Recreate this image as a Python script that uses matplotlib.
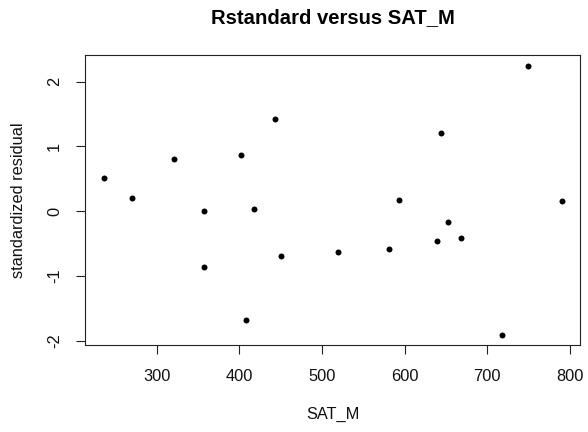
import matplotlib
matplotlib.use("Agg")
import matplotlib.pyplot as plt

sat_m = [236, 270, 321, 358, 402, 418, 443, 749, 644, 593, 790, 652, 668,
         357, 450, 408, 520, 581, 639, 718]
rstandard = [0.51, 0.21, 0.80, 0.00, 0.87, 0.03, 1.43, 2.24, 1.21, 0.18, 0.16,
             -0.16, -0.41, -0.86, -0.69, -1.67, -0.62, -0.58, -0.46, -1.90]
xticks = [300, 400, 500, 600, 700, 800]
yticks = [-2, -1, 0, 1, 2]

plt.rcParams['font.family'] = ['Liberation Sans', 'DejaVu Sans']

fig = plt.figure(figsize=(5.88, 4.32), dpi=100)
ax = fig.add_axes([85.3/588, 1-345.3/432, (580-85.3)/588, (345.3-55.3)/432])

ax.plot(sat_m, rstandard, 'o', color='black', markersize=4.3, markeredgewidth=0)

xr = max(sat_m) - min(sat_m)
yr = max(rstandard) - min(rstandard)
ax.set_xlim(min(sat_m) - 0.04*xr, max(sat_m) + 0.04*xr)
ax.set_ylim(min(rstandard) - 0.04*yr, max(rstandard) + 0.04*yr)

ax.set_xticks(xticks)
ax.set_yticks(yticks)
ax.set_xticklabels([str(v) for v in xticks])
ax.set_yticklabels([str(v) for v in yticks], rotation=90, va='center')

for s in ax.spines.values():
    s.set_linewidth(0.8)
    s.set_color('#222222')
ax.tick_params(axis='both', length=6.8, width=0.8, color='#222222',
               labelsize=11.8, labelcolor='#111111', pad=10)

ax.set_xlabel('SAT_M', fontsize=11.8, color='#111111', labelpad=17)
ax.set_ylabel('standardized residual', fontsize=11.8, color='#111111', labelpad=15)
ax.set_title('Rstandard versus SAT_M', fontsize=14.6, fontweight='bold', pad=23)

fig.savefig('out.png', dpi=100)
